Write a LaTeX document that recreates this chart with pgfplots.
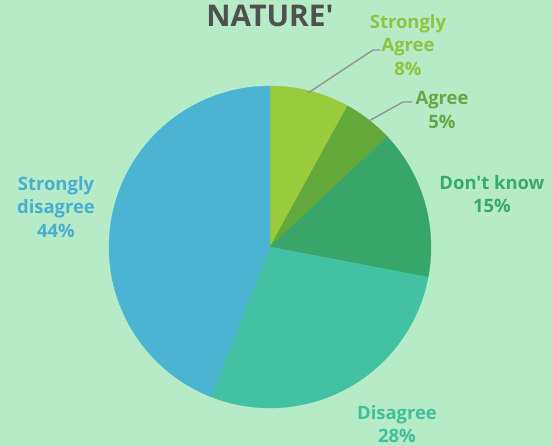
\documentclass[border=0pt]{standalone}
\usepackage{pgfplots}
\usepackage{pgfplotstable}
\pgfplotsset{compat=1.18}
\usepackage{fontspec}
\setmainfont{Open Sans}[Ligatures=TeXOff]
\definecolor{bg}{HTML}{B5EBC6}
\definecolor{cSA}{HTML}{9ACB3C}
\definecolor{cA}{HTML}{62A83A}
\definecolor{cDK}{HTML}{38A66A}
\definecolor{cD}{HTML}{42C2A2}
\definecolor{cSD}{HTML}{4BB4D2}
\definecolor{tSA}{HTML}{8EC440}
\definecolor{tA}{HTML}{62A844}
\definecolor{tDK}{HTML}{3CA86E}
\definecolor{tD}{HTML}{42BE9E}
\definecolor{tSD}{HTML}{4AAED0}
\definecolor{ttl}{HTML}{505050}
\pgfplotstableread{
label value
SA 8
A 5
DK 15
D 28
SD 44
}\piedata
\begin{document}
\begin{tikzpicture}
\pgfplotstablegetelem{0}{value}\of\piedata \edef\vA{\pgfplotsretval}
\pgfplotstablegetelem{1}{value}\of\piedata \edef\vB{\pgfplotsretval}
\pgfplotstablegetelem{2}{value}\of\piedata \edef\vC{\pgfplotsretval}
\pgfplotstablegetelem{3}{value}\of\piedata \edef\vD{\pgfplotsretval}
\pgfplotstablegetelem{4}{value}\of\piedata \edef\vE{\pgfplotsretval}
\pgfmathsetmacro\aZ{90}
\pgfmathsetmacro\aA{\aZ-3.6*\vA}
\pgfmathsetmacro\aB{\aA-3.6*\vB}
\pgfmathsetmacro\aC{\aB-3.6*\vC}
\pgfmathsetmacro\aD{\aC-3.6*\vD}
\pgfmathsetmacro\aE{\aD-3.6*\vE}
\begin{axis}[
  scale only axis, width=552bp, height=446bp,
  xmin=0, xmax=552, ymin=0, ymax=446,
  axis lines=none, ticks=none,
  axis background/.style={fill=bg},
  clip=false,
]
\addplot[fill=cSA, draw=cSA, line width=0.3pt, domain=\aA:\aZ, samples=60, variable=\t] ({270+161*cos(\t)},{199+161*sin(\t)}) -- (axis cs:270,199) -- cycle;
\addplot[fill=cA, draw=cA, line width=0.3pt, domain=\aB:\aA, samples=60, variable=\t] ({270+161*cos(\t)},{199+161*sin(\t)}) -- (axis cs:270,199) -- cycle;
\addplot[fill=cDK, draw=cDK, line width=0.3pt, domain=\aC:\aB, samples=60, variable=\t] ({270+161*cos(\t)},{199+161*sin(\t)}) -- (axis cs:270,199) -- cycle;
\addplot[fill=cD, draw=cD, line width=0.3pt, domain=\aD:\aC, samples=80, variable=\t] ({270+161*cos(\t)},{199+161*sin(\t)}) -- (axis cs:270,199) -- cycle;
\addplot[fill=cSD, draw=cSD, line width=0.3pt, domain=\aE:\aD, samples=100, variable=\t] ({270+161*cos(\t)},{199+161*sin(\t)}) -- (axis cs:270,199) -- cycle;
% leader lines
\addplot[draw=gray!85, line width=1.4pt] coordinates {(308,353) (373,396) (380,396)};
\addplot[draw=gray!85, line width=1.4pt] coordinates {(367,324) (403,344) (412,344)};
% labels
\node[anchor=base, font=\bfseries\fontsize{30}{33}\selectfont, text=ttl] at (axis cs:270,419) {NATURE'};
\node[anchor=center, align=center, font=\bfseries\fontsize{18.5}{23.5}\selectfont, text=tSA] at (axis cs:408,401) {Strongly\\Agree\\8\%};
\node[anchor=center, align=center, font=\bfseries\fontsize{18.5}{23.5}\selectfont, text=tA] at (axis cs:442,336) {Agree\\5\%};
\node[anchor=center, align=center, font=\bfseries\fontsize{18.5}{23.5}\selectfont, text=tDK] at (axis cs:492,252) {Don't know\\15\%};
\node[anchor=center, align=center, font=\bfseries\fontsize{18.5}{23.5}\selectfont, text=tSD] at (axis cs:56,239) {Strongly\\disagree\\44\%};
\node[anchor=center, align=center, font=\bfseries\fontsize{18.5}{23.5}\selectfont, text=tD] at (axis cs:397,22) {Disagree\\28\%};
\end{axis}
\pgfresetboundingbox
\path[use as bounding box] (current axis.south west) rectangle (current axis.north east);
\end{tikzpicture}
\end{document}
